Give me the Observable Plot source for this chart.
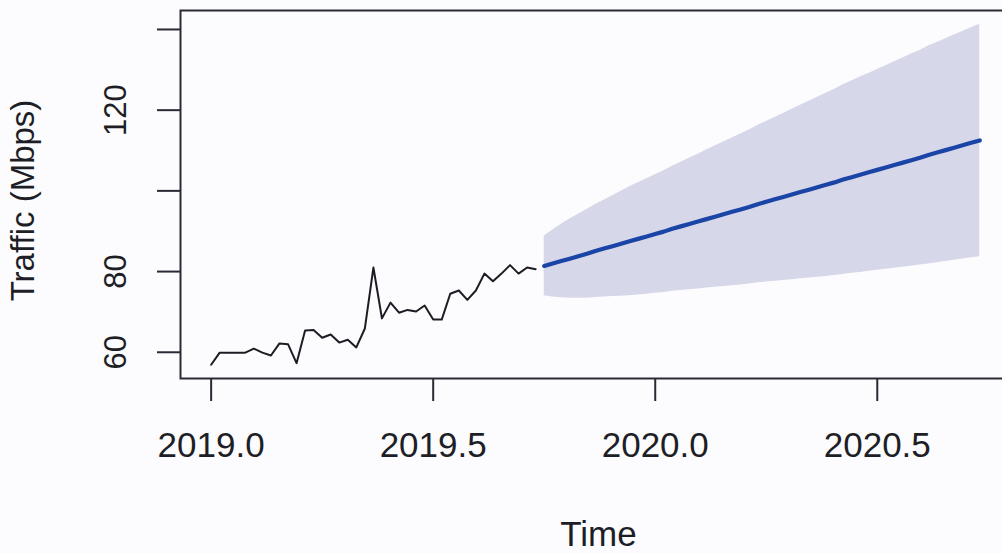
<!DOCTYPE html>
<html>
<head>
<meta charset="utf-8">
<script src="https://cdn.jsdelivr.net/npm/d3@7"></script>
<script src="https://cdn.jsdelivr.net/npm/@observablehq/plot@0.6"></script>
<style>
  html, body { margin: 0; padding: 0; background: #fcfcfe; overflow: hidden; }
  #chart { width: 1002px; height: 553px; overflow: hidden; }
  #chart svg { max-width: none !important; }
</style>
</head>
<body>
<div id="chart"></div>
<script>
// ---- Data (weekly time series, frequency 52) ----
const startYear = 2019;
const frequency = 52;

// Observed traffic (Mbps), weeks 1..39 of 2019
const observed = [
  56.9, 59.9, 59.9, 59.9, 59.9, 60.9, 59.9, 59.2, 62.2, 62.0,
  57.3, 65.4, 65.5, 63.6, 64.4, 62.4, 63.1, 61.2, 65.9, 81.0,
  68.4, 72.3, 69.8, 70.5, 70.1, 71.6, 68.1, 68.1, 74.5, 75.3,
  73.0, 75.3, 79.5, 77.6, 79.5, 81.6, 79.5, 81.0, 80.6
];

// Forecast (52 weeks ahead): point forecast, lower and upper bounds
const forecastMean = [
  81.4, 82.0, 82.6, 83.2, 83.8, 84.4, 85.1, 85.7, 86.3, 86.9,
  87.5, 88.1, 88.7, 89.3, 89.9, 90.6, 91.2, 91.8, 92.4, 93.0,
  93.6, 94.2, 94.8, 95.4, 96.0, 96.7, 97.3, 97.9, 98.5, 99.1,
  99.7, 100.3, 100.9, 101.5, 102.1, 102.8, 103.4, 104.0, 104.6, 105.2,
  105.8, 106.4, 107.0, 107.6, 108.2, 108.9, 109.5, 110.1, 110.7, 111.3,
  111.9, 112.5
];
const forecastLower = [
  74.0, 73.7, 73.5, 73.4, 73.4, 73.4, 73.6, 73.7, 73.8, 73.9,
  74.0, 74.2, 74.4, 74.6, 74.8, 75.1, 75.3, 75.5, 75.7, 75.9,
  76.1, 76.3, 76.5, 76.7, 76.9, 77.2, 77.4, 77.6, 77.8, 78.0,
  78.2, 78.4, 78.6, 78.8, 79.0, 79.3, 79.6, 79.8, 80.1, 80.3,
  80.6, 80.8, 81.1, 81.3, 81.6, 81.9, 82.2, 82.5, 82.8, 83.1,
  83.4, 83.7
];
const forecastUpper = [
  88.8, 90.3, 91.7, 93.0, 94.2, 95.4, 96.6, 97.7, 98.8, 99.9,
  101.0, 102.0, 103.0, 104.0, 105.0, 106.1, 107.1, 108.1, 109.1, 110.1,
  111.1, 112.1, 113.1, 114.1, 115.1, 116.2, 117.2, 118.2, 119.2, 120.2,
  121.2, 122.2, 123.2, 124.2, 125.2, 126.3, 127.2, 128.2, 129.1, 130.1,
  131.0, 132.0, 132.9, 133.9, 134.8, 135.9, 136.8, 137.7, 138.6, 139.5,
  140.4, 141.3
];

// Axis ticks and labels
const xTicks = [2019.0, 2019.5, 2020.0, 2020.5];
const xTickLabels = ["2019.0", "2019.5", "2020.0", "2020.5"];
const yTicks = [60, 80, 100, 120, 140];
const yTickLabels = ["60", "80", "", "120", ""];
const xTitle = "Time";
const yTitle = "Traffic (Mbps)";

// ---- Build tables ----
const hist = observed.map((v, i) => ({t: startYear + i / frequency, v}));
const n = observed.length;
const fc = forecastMean.map((m, i) => ({
  t: startYear + (n + i) / frequency,
  mean: m,
  lo: forecastLower[i],
  hi: forecastUpper[i]
}));

const xLabelMap = new Map(xTicks.map((d, i) => [d, xTickLabels[i]]));
const yLabelMap = new Map(yTicks.map((d, i) => [d, yTickLabels[i]]));

const font = "'Liberation Sans', Arial, Helvetica, sans-serif";
const ink = "#1e1e26";

const chart = Plot.plot({
  width: 1010,
  height: 553,
  marginLeft: 180,
  marginRight: 0,
  marginTop: 10,
  marginBottom: 175,
  style: {fontFamily: font, background: "transparent", color: ink, maxWidth: "none"},
  x: {domain: [2018.931, 2020.80], label: null},
  y: {domain: [53.5, 144.7], label: null},
  marks: [
    Plot.areaY(fc, {x: "t", y1: "lo", y2: "hi", fill: "#d7d7ea"}),
    Plot.line(hist, {x: "t", y: "v", stroke: "#1c1c24", strokeWidth: 2}),
    Plot.line(fc, {x: "t", y: "mean", stroke: "#1a45a6", strokeWidth: 4.2}),
    Plot.frame({stroke: "#2a2a36", strokeWidth: 2}),
    Plot.axisX({
      ticks: xTicks,
      tickSize: 23,
      tickPadding: 31,
      tickFormat: d => xLabelMap.get(d) ?? "",
      fontSize: 35,
      stroke: "#2a2a36",
      strokeWidth: 2,
      fill: ink,
      label: null
    }),
    Plot.axisY({
      ticks: yTicks,
      tickSize: 23,
      tickPadding: 32,
      tickRotate: -90,
      tickFormat: d => yLabelMap.get(d) ?? "",
      fontSize: 31,
      stroke: "#2a2a36",
      strokeWidth: 2,
      fill: ink,
      label: null
    }),
    Plot.text([xTitle], {
      text: d => d,
      frameAnchor: "bottom",
      dy: 167,
      dx: 3,
      lineAnchor: "bottom",
      textAnchor: "middle",
      fontSize: 35,
      fill: ink
    }),
    Plot.text([yTitle], {
      text: d => d,
      frameAnchor: "left",
      dx: -147,
      dy: 6,
      rotate: -90,
      lineAnchor: "bottom",
      textAnchor: "middle",
      fontSize: 33,
      fill: ink
    })
  ]
});

document.getElementById("chart").appendChild(chart);
</script>
</body>
</html>
